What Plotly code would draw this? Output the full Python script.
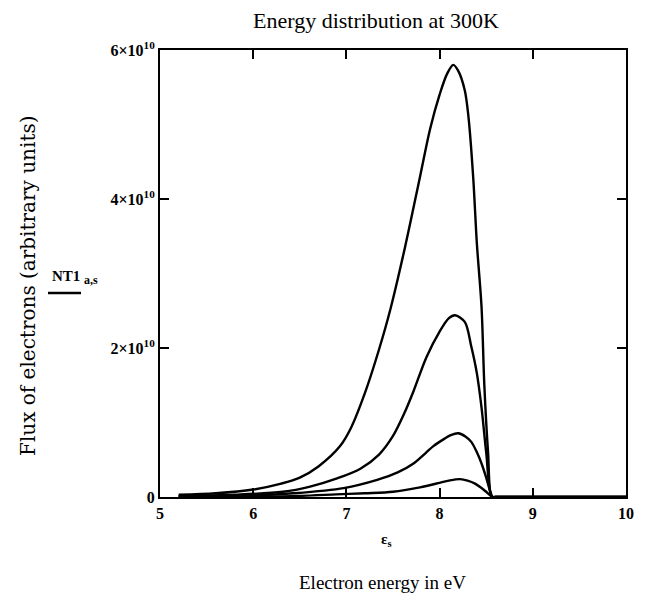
import plotly.graph_objects as go

# Electron energy (eV) and flux (units of 1e10)
x1 = [5.2, 5.6, 6.0, 6.3, 6.5, 6.7, 6.93, 7.05, 7.2, 7.35, 7.47, 7.63, 7.79, 7.9, 8.0, 8.08, 8.147, 8.2, 8.27, 8.31, 8.36, 8.40, 8.45, 8.48, 8.52, 8.56, 8.6, 10.0]
y1 = [0.03, 0.05, 0.10, 0.18, 0.26, 0.41, 0.68, 0.93, 1.40, 1.98, 2.51, 3.36, 4.30, 4.95, 5.40, 5.68, 5.80, 5.72, 5.46, 5.10, 4.30, 3.40, 2.55, 1.50, 0.60, 0.0, 0.0, 0.0]

x2 = [5.2, 5.8, 6.32, 6.61, 6.9, 7.15, 7.35, 7.5, 7.62, 7.72, 7.86, 8.0, 8.1, 8.165, 8.27, 8.34, 8.40, 8.45, 8.5, 8.56, 8.6, 10.0]
y2 = [0.01, 0.03, 0.07, 0.14, 0.25, 0.38, 0.57, 0.82, 1.12, 1.42, 1.88, 2.22, 2.40, 2.44, 2.35, 2.02, 1.66, 1.20, 0.60, 0.0, 0.0, 0.0]

x3 = [5.2, 6.0, 6.43, 6.97, 7.33, 7.55, 7.72, 7.85, 7.93, 8.05, 8.12, 8.20, 8.28, 8.34, 8.40, 8.45, 8.50, 8.54, 8.57, 8.6, 10.0]
y3 = [0.005, 0.02, 0.05, 0.12, 0.23, 0.33, 0.45, 0.59, 0.68, 0.78, 0.83, 0.855, 0.81, 0.74, 0.60, 0.45, 0.26, 0.09, 0.0, 0.0, 0.0]

x4 = [5.2, 6.0, 6.5, 6.89, 7.2, 7.5, 7.79, 8.0, 8.1, 8.22, 8.3, 8.38, 8.45, 8.50, 8.57, 8.6, 10.0]
y4 = [0.0, 0.005, 0.015, 0.035, 0.05, 0.07, 0.13, 0.19, 0.22, 0.24, 0.22, 0.18, 0.12, 0.07, 0.0, 0.0, 0.0]

series = [(x1, y1), (x2, y2), (x3, y3), (x4, y4)]
scale = 1e10

x_ticks = [5, 6, 7, 8, 9, 10]
y_tickvals = [0, 2e10, 4e10, 6e10]
y_ticktext = ["<b>0</b>", "<b>2×10<sup>10</sup></b>", "<b>4×10<sup>10</sup></b>", "<b>6×10<sup>10</sup></b>"]

fig = go.Figure()
for xs, ys in series:
    fig.add_trace(go.Scatter(
        x=xs, y=[v * scale for v in ys], mode="lines",
        line=dict(color="black", width=2.4, shape="spline", smoothing=0.9),
        showlegend=False, hoverinfo="skip"))

serif = "Liberation Serif"
# page body has an 8px margin: plot area placed at screen x 160..626, y 50..497
L, R, T, B = 160, 626, 50, 497
W, H = R - L, B - T


def px(xs):
    return (xs - L) / W


def py(ys):
    return (B - ys) / H


fig.update_layout(
    width=639, height=592,
    margin=dict(l=L - 8, r=647 - R, t=T - 8, b=600 - B),
    paper_bgcolor="white", plot_bgcolor="white",
    showlegend=False,
    xaxis=dict(range=[5, 10], tickvals=x_ticks,
               ticktext=["<b>%d</b>" % t for t in x_ticks],
               ticks="inside", ticklen=9, tickwidth=1.5, tickcolor="black",
               showline=True, linecolor="black", linewidth=2, mirror="ticks",
               showgrid=False, zeroline=False,
               tickfont=dict(family=serif, size=16, color="black"),
               ticklabelstandoff=1),
    yaxis=dict(range=[0, 6e10], tickvals=y_tickvals, ticktext=y_ticktext,
               ticks="inside", ticklen=9, tickwidth=1.5, tickcolor="black",
               showline=True, linecolor="black", linewidth=2, mirror="ticks",
               showgrid=False, zeroline=False,
               tickfont=dict(family=serif, size=16, color="black")),
)

anns = [
    dict(text="Energy distribution at 300K", x=px(376), y=py(21),
         font=dict(family=serif, size=22, color="black")),
    dict(text="<b>ε<sub>s</sub></b>", x=px(386), y=py(540),
         font=dict(family=serif, size=15, color="black")),
    dict(text="Electron energy in eV", x=px(382), y=py(582),
         font=dict(family=serif, size=19, color="black")),
    dict(text="Flux of electrons (arbitrary units)", x=px(28), y=py(286),
         textangle=-90, font=dict(family="DejaVu Serif", size=20, color="black")),
    dict(text="<b>NT1 <sub><span style='font-size:12px'>a,s</span></sub></b>",
         x=px(50), y=py(277), xanchor="left",
         font=dict(family=serif, size=15, color="black")),
]
for a in anns:
    a.setdefault("xanchor", "center")
    fig.add_annotation(xref="paper", yref="paper", yanchor="middle",
                       showarrow=False, **a)

fig.add_shape(type="line", xref="paper", yref="paper",
              x0=px(48), x1=px(81), y0=py(293), y1=py(293),
              line=dict(color="black", width=2.5))

fig.write_html("out.html")
